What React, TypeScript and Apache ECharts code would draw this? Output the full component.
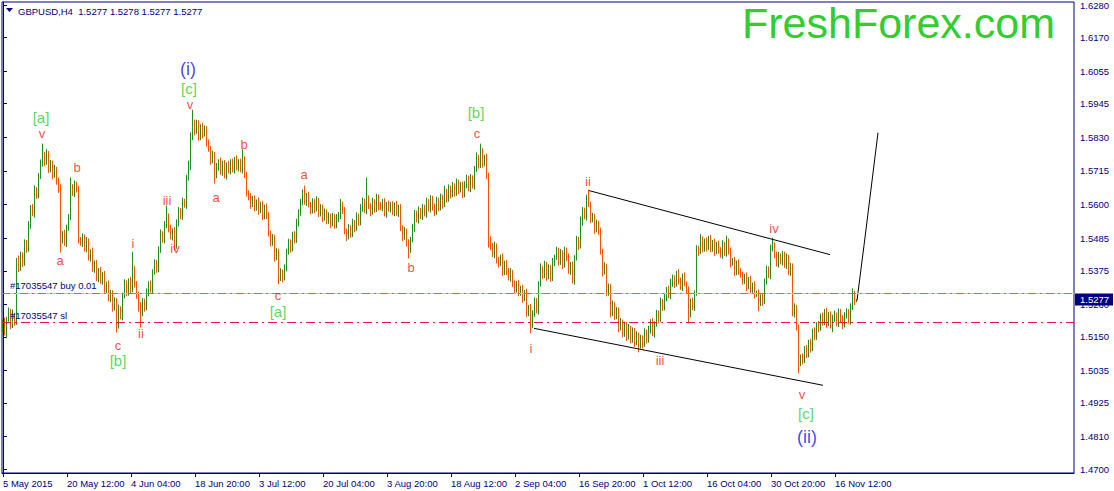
import React, { useEffect, useRef } from "react";
import * as echarts from "echarts";

const xTickLabels = ["5 May 2015", "20 May 12:00", "4 Jun 04:00", "18 Jun 20:00", "3 Jul 12:00", "20 Jul 04:00", "3 Aug 20:00", "18 Aug 12:00", "2 Sep 04:00", "16 Sep 20:00", "1 Oct 12:00", "16 Oct 04:00", "30 Oct 20:00", "16 Nov 12:00"];
const slotsPerLabel = 32;
const slotCount = 536;

const yTickValues = [1.47, 1.481, 1.4925, 1.5035, 1.515, 1.526, 1.5375, 1.5485, 1.56, 1.5715, 1.583, 1.5945, 1.6055, 1.617, 1.628];
const yMin = 1.46864;
const yMax = 1.62902;

// closes in pips (1.xxxx -> xxxx), open of each candle = previous close
const firstOpen = 5180;
const closes = [
  5195, 5165, 5210, 5235, 5190, 5225, 5200, 5405, 5385, 5430,
  5400, 5470, 5450, 5530, 5590, 5570, 5650, 5630, 5700, 5740,
  5770, 5745, 5775, 5720, 5740, 5700, 5720, 5680, 5650, 5480,
  5500, 5470, 5520, 5560, 5660, 5640, 5670, 5650, 5480, 5470,
  5490, 5450, 5475, 5420, 5440, 5380, 5400, 5350, 5375, 5340,
  5360, 5310, 5330, 5280, 5300, 5250, 5270, 5190, 5240, 5220,
  5290, 5330, 5300, 5340, 5310, 5380, 5330, 5290, 5250, 5230,
  5270, 5250, 5300, 5330, 5310, 5370, 5400, 5380, 5450, 5500,
  5480, 5530, 5560, 5520, 5490, 5510, 5460, 5540, 5580, 5560,
  5610, 5600, 5690, 5730, 5830, 5880, 5850, 5875, 5830, 5865,
  5840, 5860, 5810, 5790, 5750, 5770, 5700, 5730, 5745, 5710,
  5740, 5700, 5735, 5715, 5745, 5720, 5755, 5725, 5745, 5720,
  5755, 5700, 5640, 5625, 5600, 5620, 5590, 5610, 5580, 5600,
  5560, 5590, 5565, 5500, 5470, 5490, 5420, 5440, 5350, 5370,
  5350, 5385, 5440, 5470, 5450, 5500, 5480, 5540, 5570, 5610,
  5640, 5610, 5630, 5600, 5580, 5610, 5585, 5615, 5570, 5590,
  5555, 5575, 5545, 5560, 5535, 5560, 5530, 5555, 5560, 5600,
  5580, 5510, 5490, 5520, 5500, 5540, 5520, 5560, 5540, 5590,
  5610, 5580, 5620, 5595, 5575, 5610, 5585, 5625, 5595, 5590,
  5610, 5570, 5600, 5585, 5600, 5575, 5600, 5570, 5590, 5520,
  5490, 5510, 5470, 5450, 5480, 5520, 5570, 5550, 5580, 5560,
  5590, 5570, 5610, 5585, 5620, 5590, 5575, 5615, 5590, 5625,
  5600, 5645, 5620, 5655, 5635, 5665, 5640, 5675, 5650, 5665,
  5635, 5670, 5690, 5655, 5690, 5665, 5720, 5760, 5735, 5780,
  5740, 5760, 5700, 5480, 5460, 5430, 5460, 5410, 5400, 5420,
  5370, 5400, 5375, 5350, 5370, 5330, 5310, 5330, 5300, 5315,
  5280, 5300, 5230, 5250, 5190, 5230, 5270, 5240, 5330, 5380,
  5360, 5395, 5355, 5385, 5350, 5405, 5420, 5445, 5405, 5435,
  5395, 5445, 5420, 5375, 5395, 5340, 5420, 5480, 5460, 5540,
  5580, 5560, 5620, 5600, 5550, 5560, 5515, 5535, 5510, 5440,
  5370, 5390, 5300, 5320, 5230, 5260, 5220, 5240, 5180, 5200,
  5160, 5190, 5150, 5180, 5140, 5170, 5130, 5155, 5120, 5145,
  5125, 5165, 5140, 5175, 5200, 5160, 5195, 5230, 5210, 5270,
  5250, 5285, 5310, 5290, 5330, 5350, 5330, 5360, 5340, 5320,
  5355, 5330, 5310, 5230, 5270, 5250, 5300, 5450, 5440, 5480,
  5450, 5475, 5455, 5485, 5450, 5470, 5440, 5465, 5445, 5430,
  5465, 5435, 5475, 5440, 5400, 5410, 5370, 5400, 5375, 5360,
  5340, 5355, 5320, 5345, 5310, 5325, 5295, 5300, 5265, 5285,
  5270, 5340, 5380, 5360, 5450, 5460, 5430, 5400, 5425, 5405,
  5430, 5395, 5420, 5370, 5390, 5230, 5250, 5180, 5060, 5080,
  5070, 5110, 5090, 5130, 5110, 5170, 5150, 5190, 5180, 5220,
  5200, 5235, 5195, 5225, 5190, 5215, 5225, 5195, 5235, 5210,
  5190, 5225, 5235, 5205, 5250, 5295, 5270, 5277,
];

// wick lengths in pips above max(open, close) and below min(open, close)
const upWicks = [
  12, 20, 8, 15, 10, 18, 6, 14, 22, 10,
  8, 12, 10, 14, 9, 12, 16, 10, 8, 14,
  38, 10, 14, 8, 12, 10, 15, 9, 12, 20,
  10, 14, 12, 8, 32, 10, 12, 8, 14, 10,
  12, 9, 15, 10, 8, 14, 10, 12, 9, 13,
  10, 14, 8, 12, 10, 9, 15, 12, 20, 14,
  10, 16, 12, 9, 14, 60, 12, 10, 14, 18,
  12, 10, 15, 9, 12, 10, 14, 12, 8, 16,
  10, 14, 37, 10, 12, 9, 14, 10, 12, 8,
  14, 10, 12, 20, 16, 43, 10, 14, 12, 9,
  14, 10, 8, 12, 10, 14, 9, 12, 10, 15,
  10, 12, 9, 14, 10, 12, 8, 13, 10, 12,
  34, 10, 12, 9, 14, 10, 12, 8, 14, 10,
  12, 10, 14, 9, 12, 10, 8, 12, 10, 14,
  9, 12, 10, 14, 12, 8, 10, 12, 14, 10,
  12, 25, 10, 14, 9, 12, 10, 14, 8, 12,
  10, 12, 9, 14, 10, 12, 8, 13, 15, 20,
  10, 12, 9, 14, 10, 12, 8, 14, 10, 12,
  14, 10, 72, 12, 10, 14, 9, 12, 10, 14,
  10, 12, 9, 14, 10, 12, 8, 13, 10, 12,
  10, 14, 9, 12, 10, 15, 12, 10, 14, 9,
  12, 10, 14, 9, 12, 10, 14, 12, 9, 13,
  10, 20, 9, 14, 10, 12, 8, 14, 10, 12,
  14, 10, 12, 9, 14, 10, 12, 18, 10, 28,
  12, 10, 14, 9, 12, 10, 14, 8, 12, 10,
  14, 9, 12, 10, 14, 8, 12, 10, 14, 9,
  12, 10, 14, 9, 12, 10, 14, 12, 9, 20,
  12, 14, 10, 12, 9, 14, 10, 12, 8, 14,
  10, 12, 9, 14, 10, 12, 8, 14, 10, 20,
  12, 10, 14, 31, 10, 12, 9, 14, 10, 12,
  10, 14, 9, 12, 10, 14, 8, 12, 10, 14,
  9, 12, 10, 14, 8, 12, 10, 14, 9, 12,
  10, 14, 9, 12, 10, 14, 8, 12, 10, 14,
  9, 12, 10, 14, 18, 12, 10, 14, 20, 12,
  10, 14, 9, 12, 10, 14, 8, 12, 10, 20,
  12, 10, 14, 9, 12, 10, 14, 8, 12, 10,
  14, 9, 20, 10, 14, 8, 12, 10, 14, 9,
  12, 10, 14, 9, 12, 10, 14, 8, 12, 10,
  14, 9, 12, 10, 14, 28, 12, 10, 14, 9,
  12, 10, 14, 9, 12, 10, 14, 8, 12, 10,
  14, 9, 12, 10, 14, 8, 12, 10, 14, 9,
  12, 10, 14, 9, 12, 10, 14, 8, 12, 10,
  14, 9, 12, 10, 14, 20, 12, 1,
];
const downWicks = [
  15, 10, 20, 8, 14, 10, 12, 9, 14, 10,
  12, 8, 14, 10, 12, 9, 14, 10, 8, 12,
  10, 14, 9, 12, 10, 14, 8, 12, 10, 43,
  12, 10, 14, 9, 12, 10, 14, 8, 12, 10,
  14, 9, 12, 10, 14, 8, 12, 10, 14, 9,
  12, 10, 14, 9, 12, 14, 10, 25, 12, 10,
  14, 9, 12, 10, 14, 8, 12, 10, 14, 48,
  10, 14, 9, 12, 10, 14, 8, 12, 10, 14,
  9, 12, 10, 14, 8, 12, 16, 10, 14, 9,
  12, 10, 14, 8, 12, 10, 14, 9, 12, 10,
  14, 8, 12, 10, 14, 9, 28, 10, 14, 8,
  12, 10, 14, 9, 12, 10, 14, 8, 12, 10,
  14, 9, 12, 10, 14, 8, 12, 10, 14, 9,
  12, 10, 14, 8, 12, 10, 14, 9, 21, 10,
  14, 8, 12, 10, 14, 9, 12, 10, 14, 8,
  12, 10, 14, 9, 12, 10, 14, 8, 12, 10,
  14, 9, 12, 10, 14, 8, 12, 10, 14, 9,
  12, 10, 14, 8, 12, 10, 14, 9, 12, 10,
  14, 8, 12, 10, 14, 9, 12, 10, 14, 8,
  12, 10, 14, 9, 12, 10, 14, 8, 12, 10,
  14, 9, 12, 33, 14, 8, 12, 10, 14, 9,
  12, 10, 14, 8, 12, 10, 14, 9, 12, 10,
  14, 8, 12, 10, 14, 9, 12, 10, 14, 8,
  12, 10, 14, 9, 12, 10, 14, 8, 12, 10,
  14, 9, 12, 26, 14, 8, 12, 10, 14, 9,
  12, 10, 14, 8, 12, 10, 14, 9, 12, 10,
  14, 8, 12, 10, 28, 9, 12, 10, 14, 8,
  12, 10, 14, 9, 12, 10, 14, 8, 12, 10,
  14, 9, 12, 10, 14, 8, 12, 10, 14, 9,
  12, 10, 14, 8, 12, 10, 14, 9, 12, 10,
  14, 8, 12, 10, 14, 9, 12, 10, 14, 8,
  12, 10, 14, 9, 12, 10, 14, 8, 23, 10,
  14, 9, 12, 10, 14, 8, 12, 10, 14, 9,
  12, 10, 14, 8, 12, 10, 14, 9, 12, 10,
  14, 8, 12, 34, 14, 9, 12, 10, 14, 8,
  12, 10, 14, 9, 12, 10, 14, 8, 12, 10,
  14, 9, 12, 10, 14, 8, 12, 10, 14, 9,
  12, 10, 14, 8, 12, 10, 14, 9, 28, 10,
  14, 8, 12, 10, 14, 9, 12, 10, 14, 8,
  12, 10, 14, 9, 12, 10, 14, 8, 34, 10,
  14, 9, 12, 10, 14, 8, 12, 10, 14, 9,
  12, 10, 14, 8, 12, 24, 14, 9, 12, 10,
  14, 8, 12, 10, 14, 9, 12, 2,
];

const bidPrice = 1.5277;
const buyPrice = 1.5272;
const slPrice = 1.518;

// wave labels: [text, slot index, price]
const redLabels: [string, number, number][] = [
  ["v", 19.5, 1.5842], ["b", 37, 1.5726], ["a", 28.5, 1.541], ["i", 65, 1.5468],
  ["iii", 82, 1.5614], ["iv", 86, 1.5451], ["ii", 69, 1.5162], ["c", 57.5, 1.5121],
  ["v", 93.5, 1.5940], ["a", 106.5, 1.5624], ["b", 120.5, 1.5804], ["a", 150.5, 1.5702],
  ["c", 137.5, 1.5291], ["b", 204, 1.5386], ["c", 237, 1.5842], ["ii", 292.5, 1.5679],
  ["i", 264, 1.5111], ["iii", 328.5, 1.507], ["iv", 385.5, 1.5519], ["v", 399.5, 1.4955],
];
const greenLabels: [string, number, number][] = [
  ["[a]", 19, 1.5896], ["[c]", 93, 1.5997], ["[b]", 57.5, 1.507],
  ["[a]", 137.5, 1.5237], ["[b]", 236.5, 1.5913], ["[c]", 401.5, 1.489],
];
const blueLabels: [string, number, number][] = [
  ["(i)", 92.5, 1.6063], ["(ii)", 402, 1.4809],
];

const channelUpper: [number, number][] = [[293, 1.5648], [413.5, 1.543]];
const channelLower: [number, number][] = [[265.5, 1.5179], [410, 1.4985]];
const projection: [number, number][] = [[427, 1.5274], [430.5, 1.5461], [437.5, 1.5845]];

const NAVY = "#000080";
const UP = "#228B22";
const DOWN = "#FF5000";
const FONT = '"Liberation Sans", Arial, sans-serif';

const candles = closes.map((c, i) => {
  const o = i === 0 ? firstOpen : closes[i - 1];
  const hi = Math.max(o, c) + upWicks[i];
  const lo = Math.min(o, c) - downWicks[i];
  return [o, c, lo, hi].map((v) => 1 + v / 10000);
});

const categories = Array.from({ length: slotCount }, (_, i) => "s" + i);
const labelAt = (i: number) =>
  i % slotsPerLabel === 0 && i / slotsPerLabel < xTickLabels.length ? xTickLabels[i / slotsPerLabel] : "";

const labelSeries = (list: [string, number, number][], color: string, size: number) => ({
  type: "scatter",
  xAxisIndex: 1,
  yAxisIndex: 0,
  silent: true,
  symbol: "circle",
  symbolSize: 1,
  itemStyle: { color: "rgba(0,0,0,0)" },
  label: { show: true, position: "inside", formatter: "{b}", color, fontSize: size, fontFamily: FONT },
  emphasis: { disabled: true },
  z: 5,
  data: list.map(([t, k, p]) => ({ name: t, value: [k, p] })),
});

const lineSeries = (pts: [number, number][]) => ({
  type: "line",
  xAxisIndex: 1,
  yAxisIndex: 0,
  silent: true,
  symbol: "none",
  lineStyle: { color: "#000000", width: 1 },
  z: 4,
  data: pts,
});

export default function App() {
  const ref = useRef<HTMLDivElement>(null);
  useEffect(() => {
    document.body.style.margin = "0";
    const chart = echarts.init(ref.current as HTMLDivElement, null, { renderer: "svg" });
    chart.setOption({
      animation: false,
      backgroundColor: "#ffffff",
      grid: { left: 2, right: 40, top: 1, bottom: 18, show: true, borderColor: NAVY, borderWidth: 1 },
      xAxis: [
        {
          type: "category",
          data: categories,
          boundaryGap: true,
          axisLine: { show: true, lineStyle: { color: NAVY, width: 1 } },
          axisTick: { show: true, alignWithLabel: true, length: 4, interval: (i: number) => labelAt(i) !== "", lineStyle: { color: NAVY } },
          axisLabel: {
            show: true,
            interval: (i: number) => labelAt(i) !== "",
            formatter: (_v: string, i: number) => labelAt(i),
            align: "left",
            margin: 5,
            color: NAVY,
            fontSize: 9.5,
            fontFamily: FONT,
          },
          splitLine: { show: false },
        },
        { type: "value", min: -0.5, max: slotCount - 0.5, show: false },
      ],
      yAxis: {
        type: "value",
        position: "right",
        min: yMin,
        max: yMax,
        axisLine: { show: true, lineStyle: { color: NAVY } },
        axisTick: { show: true, customValues: yTickValues, length: 4, lineStyle: { color: NAVY } },
        axisLabel: {
          customValues: yTickValues,
          formatter: (v: number) => v.toFixed(4),
          color: NAVY,
          fontSize: 9.5,
          fontFamily: FONT,
          margin: 6,
        },
        splitLine: { show: false },
      },
      series: [
        {
          type: "candlestick",
          xAxisIndex: 0,
          yAxisIndex: 0,
          barWidth: 1,
          silent: true,
          itemStyle: { color: UP, color0: DOWN, borderColor: UP, borderColor0: DOWN, borderWidth: 1 },
          data: candles,
          markLine: {
            silent: true,
            symbol: ["none", "none"],
            animation: false,
            data: [
              { yAxis: bidPrice, lineStyle: { color: "#C8C8C8", type: "solid", width: 1 }, label: { show: false } },
              {
                yAxis: buyPrice,
                lineStyle: { color: "#3CB83C", type: [8, 4, 2, 4], width: 1 },
                label: { show: true, position: "insideStartTop", formatter: "#17035547 buy 0.01", color: NAVY, fontSize: 9.5, fontFamily: FONT, distance: [8, 2] },
              },
              {
                yAxis: slPrice,
                lineStyle: { color: "#E8163A", type: [9, 4, 2, 4], width: 1 },
                label: { show: true, position: "insideStartTop", formatter: "#17035547 sl", color: NAVY, fontSize: 9.5, fontFamily: FONT, distance: [8, 2] },
              },
            ],
          },
        },
        lineSeries(channelUpper),
        lineSeries(channelLower),
        lineSeries(projection),
        labelSeries(redLabels, "#F01818", 13),
        labelSeries(greenLabels, "#33CC33", 15),
        labelSeries(blueLabels, "#1414F0", 18),
      ],
    });
    const py = chart.convertToPixel({ yAxisIndex: 0 }, bidPrice) as number;
    chart.setOption({
      graphic: [
        { type: "polygon", shape: { points: [[6, 8], [13, 8], [9.5, 12]] }, style: { fill: NAVY }, z: 100 },
        {
          type: "text",
          x: 18,
          y: 11,
          style: { text: "GBPUSD,H4\u00a0 1.5277 1.5278 1.5277 1.5277", fill: NAVY, font: `9.5px ${FONT}`, verticalAlign: "middle" },
          z: 100,
        },
        {
          type: "text",
          x: 742,
          y: 23,
          style: { text: "FreshForex.com", fill: "#33CC33", font: `43px ${FONT}`, verticalAlign: "middle" },
          z: 100,
        },
        { type: "rect", shape: { x: 1075, y: py - 6, width: 38, height: 12 }, style: { fill: NAVY }, z: 100 },
        {
          type: "text",
          x: 1080,
          y: py,
          style: { text: "1.5277", fill: "#ffffff", font: `9.5px ${FONT}`, verticalAlign: "middle" },
          z: 101,
        },
      ],
    });
    return () => chart.dispose();
  }, []);
  return <div ref={ref} style={{ position: "fixed", left: 0, top: 0, width: 1114, height: 491 }} />;
}
